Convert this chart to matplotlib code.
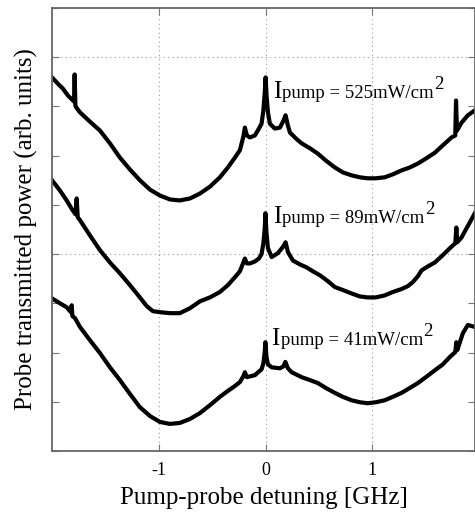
import matplotlib
matplotlib.use("Agg")
import matplotlib.pyplot as plt
from matplotlib.ticker import MultipleLocator

plt.rcParams['font.family'] = ['Liberation Serif', 'DejaVu Serif']

# detuning [GHz] and transmitted power (arb. units) for each pump intensity
x_525 = [-2.010, -1.954, -1.907, -1.860, -1.803, -1.797, -1.790, -1.782, -1.747,
         -1.653, -1.559, -1.465, -1.371, -1.277, -1.183, -1.088, -0.995, -0.900,
         -0.807, -0.712, -0.618, -0.524, -0.430, -0.355, -0.289, -0.242, -0.209,
         -0.195, -0.176, -0.148, -0.101, -0.063, -0.038, -0.021, -0.008, 0.000,
         0.009, 0.022, 0.040, 0.087, 0.135, 0.168, 0.188, 0.210, 0.229, 0.285,
         0.339, 0.417, 0.492, 0.567, 0.652, 0.727, 0.809, 0.887, 0.960, 1.037,
         1.120, 1.197, 1.279, 1.357, 1.433, 1.508, 1.593, 1.668, 1.750, 1.785,
         1.792, 1.801, 1.844, 1.903, 1.969]
y_525 = [7.59, 7.46, 7.36, 7.22, 7.10, 7.65, 7.02, 6.98, 6.88,
         6.69, 6.51, 6.25, 5.96, 5.72, 5.50, 5.31, 5.19, 5.11,
         5.09, 5.13, 5.23, 5.37, 5.56, 5.76, 5.96, 6.11, 6.39,
         6.57, 6.41, 6.37, 6.41, 6.55, 6.65, 6.92, 7.28, 7.59,
         7.22, 6.88, 6.65, 6.55, 6.57, 6.71, 6.82, 6.61, 6.47, 6.35,
         6.25, 6.15, 6.04, 5.90, 5.76, 5.66, 5.60, 5.56, 5.54, 5.54,
         5.56, 5.62, 5.70, 5.76, 5.84, 5.94, 6.06, 6.21, 6.37, 6.41,
         7.12, 6.51, 6.67, 6.82, 6.92]

x_89 = [-2.010, -1.935, -1.872, -1.822, -1.789, -1.778, -1.768, -1.747, -1.653,
        -1.559, -1.465, -1.371, -1.277, -1.183, -1.117, -1.060, -0.995, -0.900,
        -0.807, -0.712, -0.618, -0.524, -0.430, -0.355, -0.289, -0.242, -0.209,
        -0.195, -0.176, -0.148, -0.101, -0.063, -0.038, -0.021, -0.008, -0.002,
        0.008, 0.022, 0.057, 0.116, 0.168, 0.188, 0.210, 0.257, 0.323, 0.386,
        0.445, 0.511, 0.586, 0.652, 0.727, 0.809, 0.887, 0.960, 1.037, 1.120,
        1.197, 1.279, 1.339, 1.385, 1.433, 1.468, 1.527, 1.593, 1.668, 1.734,
        1.785, 1.795, 1.804, 1.844, 1.969]
y_89 = [5.50, 5.29, 5.09, 4.91, 4.81, 5.13, 4.75, 4.69, 4.38,
        4.08, 3.83, 3.61, 3.37, 3.12, 2.94, 2.84, 2.82, 2.80,
        2.80, 2.90, 3.04, 3.12, 3.23, 3.37, 3.53, 3.65, 3.83,
        3.91, 3.81, 3.81, 3.85, 3.91, 4.00, 4.22, 4.52, 4.83,
        4.44, 4.12, 3.94, 4.02, 4.16, 4.24, 4.04, 3.87, 3.79, 3.73,
        3.65, 3.57, 3.45, 3.33, 3.27, 3.20, 3.14, 3.12, 3.12, 3.16,
        3.23, 3.29, 3.35, 3.43, 3.55, 3.67, 3.75, 3.83, 3.98, 4.12,
        4.22, 4.54, 4.24, 4.34, 4.83]

x_41 = [-2.010, -1.935, -1.872, -1.832, -1.825, -1.818, -1.794, -1.747, -1.653,
        -1.559, -1.465, -1.371, -1.277, -1.183, -1.088, -0.995, -0.900, -0.807,
        -0.712, -0.618, -0.524, -0.430, -0.355, -0.289, -0.242, -0.209, -0.195,
        -0.176, -0.101, -0.038, -0.021, -0.008, -0.002, 0.008, 0.022, 0.057,
        0.135, 0.168, 0.186, 0.210, 0.245, 0.339, 0.417, 0.492, 0.567, 0.652,
        0.727, 0.809, 0.887, 0.960, 1.037, 1.120, 1.197, 1.279, 1.357, 1.433,
        1.508, 1.593, 1.668, 1.734, 1.785, 1.795, 1.804, 1.856, 1.903, 1.969]
y_41 = [3.10, 3.00, 2.92, 2.82, 2.96, 2.74, 2.70, 2.52, 2.25,
        1.99, 1.70, 1.44, 1.16, 0.89, 0.71, 0.59, 0.55, 0.57,
        0.65, 0.77, 0.93, 1.10, 1.22, 1.32, 1.40, 1.52, 1.60,
        1.50, 1.54, 1.66, 1.78, 2.01, 2.21, 1.91, 1.76, 1.70,
        1.68, 1.72, 1.81, 1.68, 1.60, 1.50, 1.44, 1.38, 1.28, 1.18,
        1.10, 1.03, 0.99, 0.97, 0.99, 1.03, 1.10, 1.18, 1.28, 1.38,
        1.50, 1.64, 1.76, 1.91, 2.01, 2.21, 2.05, 2.39, 2.56, 2.52]

traces = [(x_525, y_525), (x_89, y_89), (x_41, y_41)]
intensities = ["525", "89", "41"]
label_x = [0.066, 0.066, 0.056]
label_y = [7.18, 4.63, 2.15]

x_ticks = [-1, 0, 1]
x_tick_labels = ["-1", "0", "1"]

fig = plt.figure(figsize=(4.75, 5.15), dpi=100)
ax = fig.add_axes([0.1095, 0.1243, 0.8915, 0.8602])

for xs, ys in traces:
    ax.plot(xs, ys, color='black', lw=3.0, solid_joinstyle='round')

ax.set_xlim(-2.01, 1.975)
ax.set_ylim(0, 9)

ax.set_xticks(x_ticks)
ax.set_xticklabels(x_tick_labels, fontsize=13)
ax.set_yticks([0, 4, 8])
ax.set_yticklabels([])
ax.yaxis.set_minor_locator(MultipleLocator(1))
ax.tick_params(which='both', direction='in', top=True, right=True,
               length=5, width=0.8, color='#777777', pad=8)
ax.grid(True, which='major', linestyle=(0, (1, 3)), color='#999999', lw=0.8)

for side in ['left', 'bottom', 'top', 'right']:
    ax.spines[side].set_color('#666666')
    ax.spines[side].set_linewidth(1.3)

ax.set_xlabel("Pump-probe detuning [GHz]", fontsize=18, labelpad=6)
ax.set_ylabel("Probe transmitted power (arb. units)", fontsize=18, labelpad=2)

# pump intensity labels: large I, then the rest of the text, then the exponent
fig.canvas.draw()
for value, lx, ly in zip(intensities, label_x, label_y):
    big_i = ax.text(lx, ly, "I", fontsize=18, va='baseline', ha='left')
    body = ax.annotate("pump = %smW/cm" % value, xy=(1, ly),
                       xycoords=(big_i, 'data'), xytext=(0.5, 0),
                       textcoords='offset points', fontsize=13.5,
                       va='baseline', ha='left')
    ax.annotate("2", xy=(1, ly), xycoords=(body, 'data'), xytext=(0.5, 6.5),
                textcoords='offset points', fontsize=13.5,
                va='baseline', ha='left')

fig.savefig("out.png", dpi=100)
